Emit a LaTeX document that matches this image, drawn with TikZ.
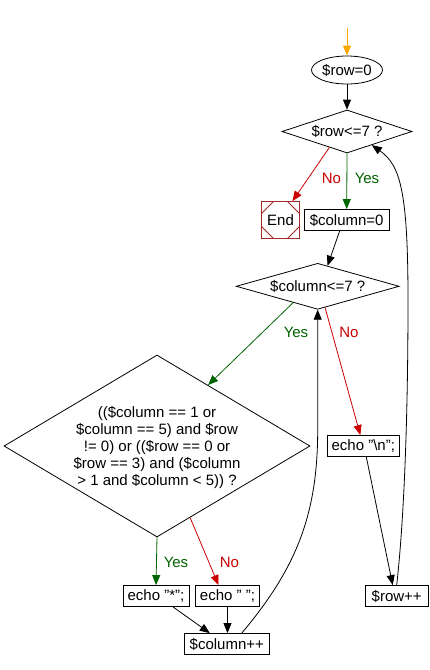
\documentclass[tikz,border=0pt]{standalone}
\usepackage{fontspec}
\setmainfont{Liberation Sans}
\usetikzlibrary{shapes.geometric,arrows.meta,calc}
\definecolor{fcred}{RGB}{204,0,0}
\definecolor{fcgreen}{RGB}{0,100,0}
\definecolor{fcorange}{RGB}{255,165,0}
\definecolor{fcend}{RGB}{165,42,42}
\begin{document}
\begin{tikzpicture}[x=1pt,y=-1pt,
  every node/.style={font=\fontsize{15}{17}\selectfont},
  ln/.style={line width=0.8pt},
  arr/.style={ln,-{Triangle[length=10pt,width=8pt]}},
  box/.style={draw,ln,rectangle,inner sep=0pt,minimum height=21pt},
  dia/.style={draw,ln,diamond,inner sep=0pt},
  lbl/.style={inner sep=0pt}]
\fill[white] (0,0) rectangle (429,670);
\useasboundingbox (0,0) rectangle (429,670);

% nodes
\coordinate (st) at (347,28);
\node[ellipse,draw,ln,minimum width=71pt,minimum height=28pt,inner sep=0pt] (r0) at (347,70) {\$row=0};
\node[dia,minimum width=130pt,minimum height=43pt] (d1) at (347,131.5) {};
\node (d1t) at (d1) {\$row<=7 ?};
\node[box,draw=fcend,minimum width=38pt,minimum height=37pt,
  path picture={
    \draw[fcend,ln] ([xshift=12pt]path picture bounding box.north west) -- ([yshift=-12pt]path picture bounding box.north west);
    \draw[fcend,ln] ([xshift=-12pt]path picture bounding box.north east) -- ([yshift=-12pt]path picture bounding box.north east);
    \draw[fcend,ln] ([xshift=12pt]path picture bounding box.south west) -- ([yshift=12pt]path picture bounding box.south west);
    \draw[fcend,ln] ([xshift=-12pt]path picture bounding box.south east) -- ([yshift=12pt]path picture bounding box.south east);
  }] (end) at (280.5,220) {End};
\node[box,minimum width=85pt] (c0) at (346.7,220) {\$column=0};
\node[dia,minimum width=163pt,minimum height=46pt] (d2) at (317.7,286.3) {};
\node (d2t) at (d2) {\$column<=7 ?};
\node[dia,minimum width=306pt,minimum height=182pt] (d3) at (157,446) {};
\node[align=center] (d3t) at (157,447) {((\$column == 1 or\\\$column == 5) and \$row\\!= 0) or ((\$row == 0 or\\\$row == 3) and (\$column\\> 1 and \$column < 5)) ?};
\node[box,minimum width=66pt] (es) at (156,596) {echo "*";};
\node[box,minimum width=64pt] (ep) at (227.5,596) {echo " ";};
\node[box,minimum width=85pt] (cp) at (226.8,644) {\$column++};
\node[box,minimum width=72pt] (en) at (363.3,446) {echo "\textbackslash n";};
\node[box,minimum width=63pt] (rp) at (396.7,596) {\$row++};
\coordinate (rr) at (408,300);

% labels
\node[lbl,text=fcred] (l1n) at (331.5,178) {No};
\node[lbl,text=fcgreen] (l1y) at (367,178) {Yes};
\node[lbl,text=fcgreen] (l2y) at (296,332) {Yes};
\node[lbl,text=fcred] (l2n) at (349,332) {No};
\node[lbl,text=fcgreen] (l3y) at (176,562) {Yes};
\node[lbl,text=fcred] (l3n) at (229.5,562) {No};

% connectors
\draw[arr,fcorange] (st) -- (r0.north);
\draw[arr] (r0.south) -- (d1.north);
\draw[arr,fcred] ($(d1.south)!0.27!(d1.west)$) -- ([xshift=12pt]end.north);
\draw[arr,fcgreen] (d1.south) -- (c0.north);
\draw[arr] ([xshift=-7pt]c0.south) -- ($(d2.north)!0.12!(d2.east)$);
\draw[arr,fcgreen] ($(d2.south)!0.3!(d2.west)$) -- ($(d3.north)!0.333!(d3.east)$);
\draw[arr,fcred] ($(d2.south)!0.09!(d2.east)$) -- ([xshift=-3pt]en.north);
\draw[arr,fcgreen] (d3.south) -- (es.north);
\draw[arr,fcred] ($(d3.south)!0.216!(d3.east)$) -- ([xshift=-9pt]ep.north);
\draw[arr] ([xshift=17pt]es.south) -- ([xshift=-17pt]cp.north);
\draw[arr] (ep.south) -- (ep.south |- cp.north);
\draw[arr] ([xshift=15pt]cp.north) to[out=50,in=-90] ([yshift=-120pt]d2.south) -- (d2.south);
\draw[arr] ([xshift=3pt]en.south) -- ([xshift=-4pt]rp.north);
\draw[arr] (rp.north) .. controls (404,520) and (408,420) .. (rr) .. controls (408,190) and (400,165) .. ($(d1.south)!0.38!(d1.east)$);
\end{tikzpicture}
\end{document}
